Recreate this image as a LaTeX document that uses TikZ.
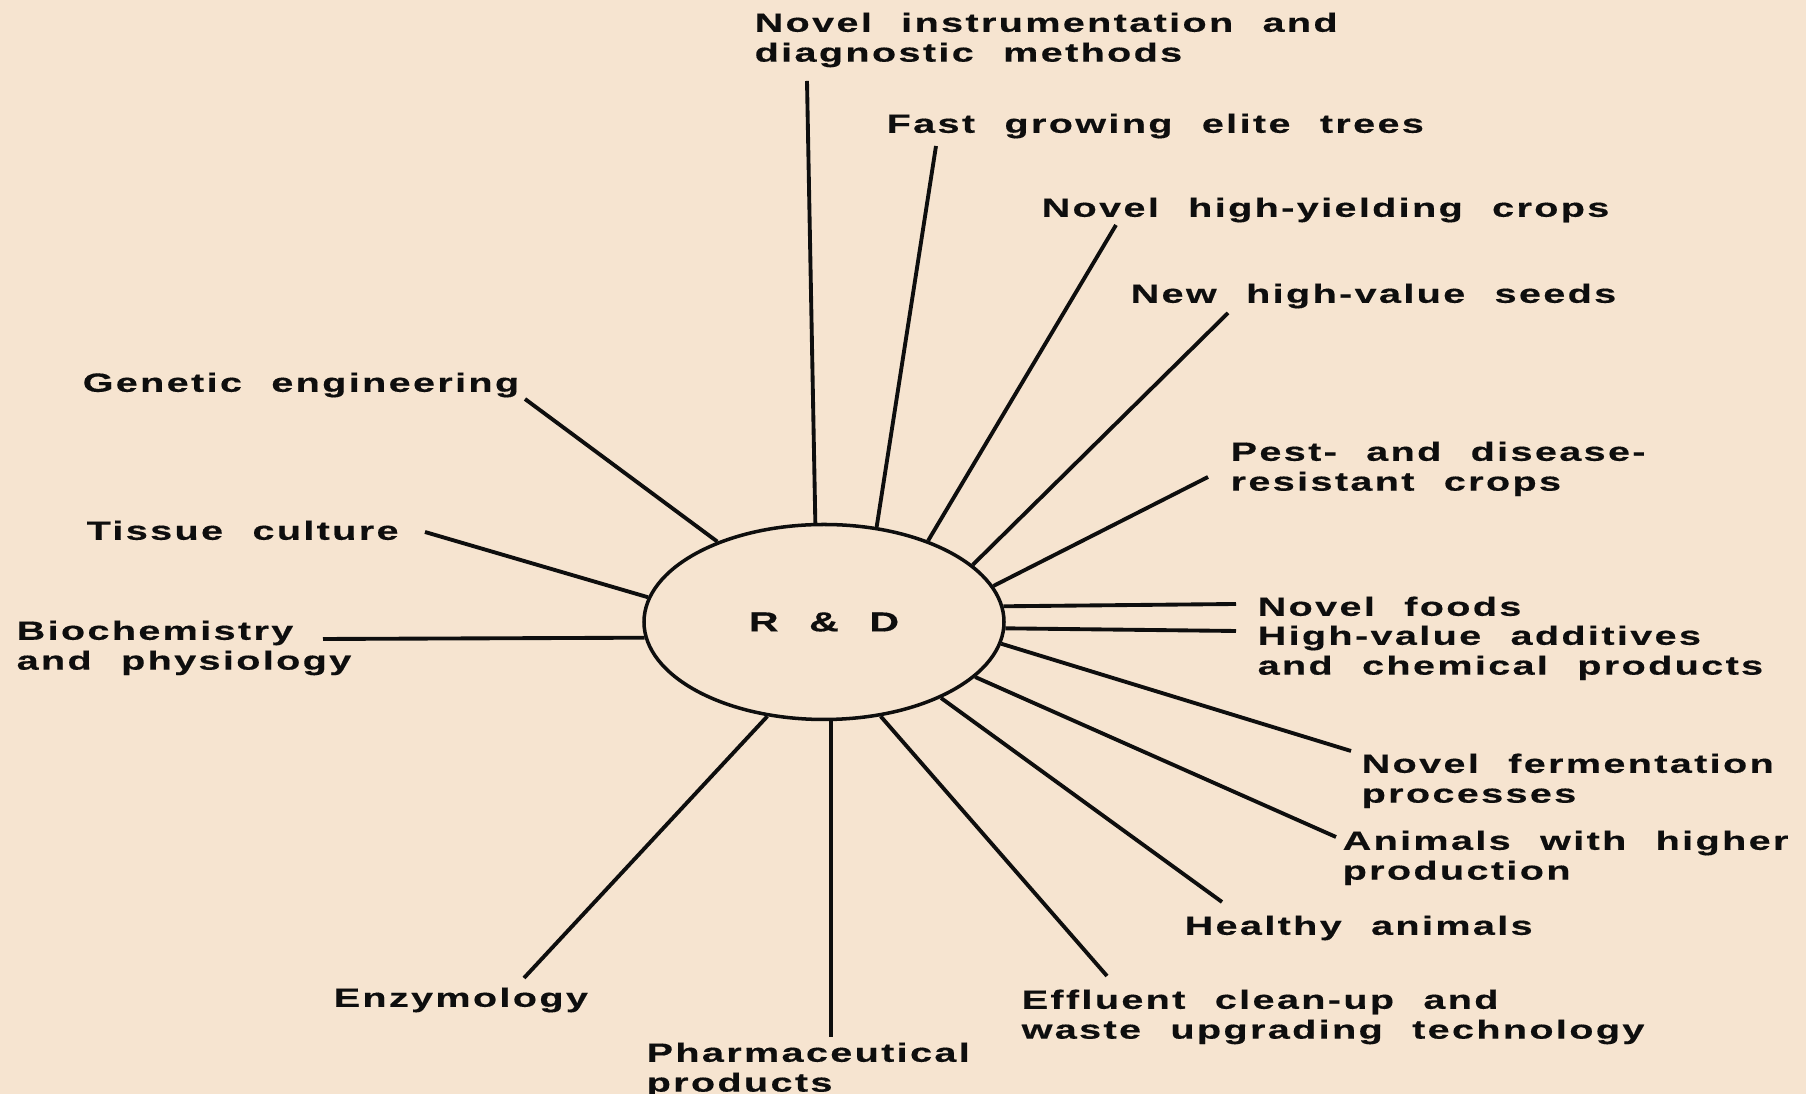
\documentclass[tikz,border=0pt]{standalone}
\usepackage{fontspec}
\setmainfont{Liberation Sans}[FakeStretch=1.5,LetterSpace=9,WordSpace=2.2,BoldFeatures={FakeBold=0.4}]
\usepackage{tikz}
\usetikzlibrary{positioning,shapes.geometric}
\definecolor{paper}{HTML}{F6E4D0}
\definecolor{ink}{HTML}{0E0E0E}
\tikzset{
  lbl/.style={anchor=north west,inner sep=0pt,align=left,font=\fontsize{7.5}{8.5}\selectfont\bfseries,text=ink},
  spoke/.style={draw=ink,line width=1.1pt},
  hub/.style={draw=ink,ellipse,line width=1pt,minimum width=3.6cm,minimum height=1.95cm,inner sep=0pt,
    font=\fontsize{7.8}{9}\selectfont\bfseries,text=ink},
}

\begin{document}
\begin{tikzpicture}

% ==== paper ====
\fill[paper] (0,0) rectangle (18.06,10.94);
\useasboundingbox (0,0) rectangle (18.06,10.94);

% ==== hub ====
\node[hub] (RD) at (8.24,4.72) {R\ \&\ D};

% ==== labels, upper side ====
\node[lbl] (instr)  at (7.54,10.82) {Novel instrumentation and\\diagnostic methods};
\node[lbl] (trees)  at (8.86,9.81)  {Fast growing elite trees};
\node[lbl] (crops)  at (10.41,8.97) {Novel high-yielding crops};
\node[lbl] (seeds)  at (11.30,8.11) {New high-value seeds};
\node[lbl] (pest)   at (12.30,6.53) {Pest- and disease-\\resistant crops};

% ==== labels, right side ====
\node[lbl] (foods)  at (12.57,4.98) {Novel foods};
\node[lbl] (addit)  at (12.57,4.69) {High-value additives\\and chemical products};
\node[lbl] (ferm)   at (13.61,3.41) {Novel fermentation\\processes};
\node[lbl] (animhi) at (13.42,2.64) {Animals with higher\\production};
\node[lbl] (health) at (11.84,1.79) {Healthy animals};
\node[lbl] (waste)  at (10.21,1.05) {Effluent clean-up and\\waste upgrading technology};

% ==== labels, lower and left side ====
\node[lbl] (pharma) at (6.46,0.52)  {Pharmaceutical\\products};
\node[lbl] (enzym)  at (3.33,1.07)  {Enzymology};
\node[lbl] (biochem) at (0.16,4.74) {Biochemistry\\and physiology};
\node[lbl] (tissue) at (0.86,5.74)  {Tissue culture};
\node[lbl] (genet)  at (0.82,7.22)  {Genetic engineering};

% ==== free ends of the spokes ====
\coordinate (o1)  at (8.07,10.13);
\coordinate (o2)  at (9.36,9.48);
\coordinate (o3)  at (11.16,8.69);
\coordinate (o4)  at (12.28,7.81);
\coordinate (o5)  at (12.08,6.17);
\coordinate (o6)  at (12.36,4.90);
\coordinate (o7)  at (12.36,4.63);
\coordinate (o8)  at (13.51,3.43);
\coordinate (o9)  at (13.36,2.57);
\coordinate (o10) at (12.22,1.92);
\coordinate (o11) at (11.07,1.18);
\coordinate (o12) at (8.31,0.57);
\coordinate (o13) at (5.24,1.16);
\coordinate (o14) at (3.23,4.55);
\coordinate (o15) at (4.25,5.62);
\coordinate (o16) at (5.25,6.95);

% ==== spokes ====
\draw[spoke] (RD.95.9)  -- (o1);
\draw[spoke] (RD.61)    -- (o2);
\draw[spoke] (RD.38.9)  -- (o3);
\draw[spoke] (RD.21.3)  -- (o4);
\draw[spoke] (RD.12.6)  -- (o5);
\draw[spoke] (RD.5.7)   -- (o6);
\draw[spoke] (RD.-2.9)  -- (o7);
\draw[spoke] (RD.-7.9)  -- (o8);
\draw[spoke] (RD.-20.5) -- (o9);
\draw[spoke] (RD.-33)   -- (o10);
\draw[spoke] (RD.-59.7) -- (o11);
\draw[spoke] (RD.-86)   -- (o12);
\draw[spoke] (RD.-121)  -- (o13);
\draw[spoke] (RD.185)   -- (o14);
\draw[spoke] (RD.172)   -- (o15);
\draw[spoke] (RD.143.5) -- (o16);

\end{tikzpicture}
\end{document}
